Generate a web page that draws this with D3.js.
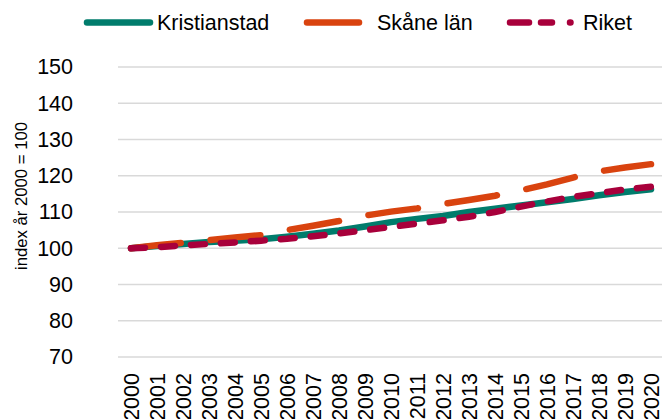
<!DOCTYPE html>
<html>
<head>
<meta charset="utf-8">
<script src="https://cdn.jsdelivr.net/npm/d3@7"></script>
<style>
  body { margin: 0; background: #fff; }
  svg { display: block; font-family: "Liberation Sans", Arial, sans-serif; }
</style>
</head>
<body>
<div id="container"></div>
<script>
let years = ["2000","2001","2002","2003","2004","2005","2006","2007","2008","2009","2010",
             "2011","2012","2013","2014","2015","2016","2017","2018","2019","2020"];
let kristianstad = [100, 100.6, 101.2, 101.7, 102.1, 102.5, 103.2, 104.0, 104.9, 106.0, 107.2,
                    108.1, 108.9, 110.0, 110.9, 111.8, 112.7, 113.6, 114.6, 115.5, 116.3];
let skane = [100, 100.8, 101.5, 102.2, 103.0, 103.6, 105.0, 106.2, 107.5, 109.0, 110.1,
             111.0, 112.2, 113.3, 114.5, 116.0, 117.6, 119.5, 121.2, 122.3, 123.2];
let riket = [100, 100.3, 100.8, 101.2, 101.6, 102.1, 102.6, 103.3, 104.1, 105.0, 105.9,
             106.8, 107.7, 108.7, 110.0, 111.5, 112.9, 114.2, 115.2, 116.2, 117.0];
let yTicks = [70, 80, 90, 100, 110, 120, 130, 140, 150];
let seriesNames = ["Kristianstad", "Skåne län", "Riket"];

let w = 664;
let h = 419;

let viz = d3.select("#container")
  .append("svg")
    .attr("width", w)
    .attr("height", h)
;

let xScale = d3.scaleBand().domain(years).range([118, 664]);
let yScale = d3.scaleLinear().domain([70, 150]).range([357, 67]);

// gridlines
viz.append("g").selectAll("line").data(yTicks).enter()
  .append("line")
    .attr("x1", 118)
    .attr("x2", 662)
    .attr("y1", d => yScale(d))
    .attr("y2", d => yScale(d))
    .attr("stroke", "#d9d9d9")
    .attr("stroke-width", 1.5)
;

// y tick labels
let yAxis = d3.axisLeft(yScale).tickValues(yTicks).tickSize(0).tickPadding(0);
let yAxisGroup = viz.append("g")
    .attr("transform", "translate(73,0)")
    .call(yAxis);
yAxisGroup.select(".domain").remove();
yAxisGroup.selectAll("text")
    .attr("font-size", "21.5px")
    .attr("font-family", "Liberation Sans, Arial, sans-serif")
    .attr("fill", "#000");

// x tick labels, rotated (cut at the bottom edge like the original)
let xAxis = d3.axisBottom(xScale).tickSize(0).tickPadding(0);
let xAxisGroup = viz.append("g")
    .attr("transform", "translate(0,373)")
    .call(xAxis);
xAxisGroup.select(".domain").remove();
xAxisGroup.selectAll("text")
    .attr("font-size", "21.5px")
    .attr("font-family", "Liberation Sans, Arial, sans-serif")
    .attr("fill", "#000")
    .attr("transform", "rotate(-90)")
    .attr("text-anchor", "end")
    .attr("x", 0)
    .attr("y", 0)
    .attr("dy", "0.36em");

// y axis title
viz.append("text")
    .attr("transform", "translate(21,196) rotate(-90)")
    .attr("text-anchor", "middle")
    .attr("dy", "0.36em")
    .attr("font-size", "16.7px")
    .text("index år 2000 = 100");

let lineMaker = d3.line()
  .x((d, i) => xScale(years[i]) + xScale.bandwidth() / 2)
  .y(d => yScale(d));

let graphGroup = viz.append("g");

graphGroup.append("path")
    .attr("d", lineMaker(kristianstad))
    .attr("fill", "none")
    .attr("stroke", "#007c6c")
    .attr("stroke-width", 6.5)
    .attr("stroke-linecap", "round")
    .attr("stroke-linejoin", "round");

graphGroup.append("path")
    .attr("d", lineMaker(skane))
    .attr("fill", "none")
    .attr("stroke", "#d9430f")
    .attr("stroke-width", 6.5)
    .attr("stroke-linecap", "round")
    .attr("stroke-dasharray", "50,30");

graphGroup.append("path")
    .attr("d", lineMaker(riket))
    .attr("fill", "none")
    .attr("stroke", "#a8003b")
    .attr("stroke-width", 6.5)
    .attr("stroke-linecap", "round")
    .attr("stroke-dasharray", "14,16");

// legend
let legend = viz.append("g");
legend.append("line")
    .attr("x1", 87).attr("x2", 150).attr("y1", 22.5).attr("y2", 22.5)
    .attr("stroke", "#007c6c").attr("stroke-width", 6.5).attr("stroke-linecap", "round");
legend.append("line")
    .attr("x1", 307).attr("x2", 359).attr("y1", 22.5).attr("y2", 22.5)
    .attr("stroke", "#d9430f").attr("stroke-width", 6.5).attr("stroke-linecap", "round");
legend.append("line")
    .attr("x1", 510).attr("x2", 576).attr("y1", 22.5).attr("y2", 22.5)
    .attr("stroke", "#a8003b").attr("stroke-width", 6.5).attr("stroke-linecap", "round")
    .attr("stroke-dasharray", "19,12,11,18,0.5,100");

let legendX = [157, 377, 583];
legend.selectAll("text").data(seriesNames).enter()
  .append("text")
    .attr("x", (d, i) => legendX[i])
    .attr("y", 22.5)
    .attr("dy", "0.36em")
    .attr("font-size", "21.5px")
    .text(d => d);
</script>
</body>
</html>
